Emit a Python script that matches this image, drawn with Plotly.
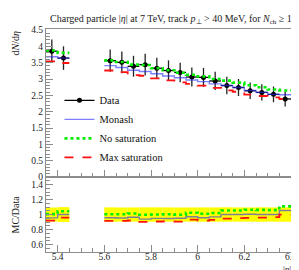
import plotly.graph_objects as go
from plotly.subplots import make_subplots

# ---- data ----
edges_left = [5.35, 5.40, 5.45]
edges_right = [5.60, 5.65, 5.70, 5.75, 5.80, 5.85, 5.90, 5.95, 6.00,
               6.05, 6.10, 6.15, 6.20, 6.25, 6.30, 6.35, 6.40]

data_left = [3.85, 3.64]
data_right = [3.56, 3.51, 3.39, 3.44, 3.33, 3.26, 3.20, 3.06, 3.05,
              2.94, 2.80, 2.74, 2.64, 2.59, 2.53, 2.39]
err_left = [0.36, 0.36]
err_right = [0.34, 0.33, 0.32, 0.33, 0.32, 0.31, 0.30, 0.29, 0.29,
             0.28, 0.27, 0.26, 0.25, 0.25, 0.24, 0.23]

monash_left = [3.68, 3.64]
monash_right = [3.41, 3.35, 3.27, 3.23, 3.16, 3.09, 3.04, 2.97, 2.92,
                2.85, 2.80, 2.74, 2.65, 2.59, 2.53, 2.52]
nosat_left = [3.87, 3.80]
nosat_right = [3.57, 3.52, 3.44, 3.43, 3.33, 3.27, 3.19, 3.13, 3.08,
               3.00, 2.95, 2.89, 2.81, 2.75, 2.68, 2.65]
maxsat_left = [3.54, 3.49]
maxsat_right = [3.26, 3.21, 3.12, 3.10, 3.02, 2.96, 2.90, 2.85, 2.80,
                2.73, 2.65, 2.61, 2.52, 2.48, 2.44, 2.39]

FONT = "Liberation Serif"

groups = [(edges_left, data_left, err_left, monash_left, nosat_left, maxsat_left),
          (edges_right, data_right, err_right, monash_right, nosat_right, maxsat_right)]


def centers(e):
    return [(a + b) / 2 for a, b in zip(e[:-1], e[1:])]


def halfw(e):
    return [(b - a) / 2 for a, b in zip(e[:-1], e[1:])]


def steps(idx, ratio=False):
    xs, ys = [], []
    for g in groups:
        e, d = g[0], g[1]
        v = g[idx]
        if ratio:
            v = [m / dd for m, dd in zip(v, d)]
        if xs:
            xs.append(None)
            ys.append(None)
        xs += list(e)
        ys += list(v) + [v[-1]]
    return xs, ys


fig = make_subplots(rows=2, cols=1, shared_xaxes=True, vertical_spacing=0,
                    row_heights=[0.664, 0.336])

# ratio band (data uncertainty)
for g in groups:
    e, d, er = g[0], g[1], g[2]
    rel = [a / b for a, b in zip(er, d)]
    fig.add_trace(go.Bar(x=centers(e), y=[2 * r for r in rel], base=[1 - r for r in rel],
                         width=[2 * h for h in halfw(e)], marker=dict(color="#ffff00", line_width=0),
                         showlegend=False, hoverinfo="skip"), row=2, col=1)

styles = [
    (3, "Monash", dict(color="rgba(40,40,255,0.6)", width=1.4)),
    (4, "No saturation", dict(color="#00ee00", width=2.6, dash="dot")),
    (5, "Max saturation", dict(color="#ff1010", width=1.8, dash="dash")),
]

# data in main panel
xc, yc, ex, ey = [], [], [], []
for g in groups:
    xc += centers(g[0]); yc += g[1]; ex += halfw(g[0]); ey += g[2]
fig.add_trace(go.Scatter(x=xc, y=yc, mode="markers", name="Data", showlegend=False,
                         marker=dict(color="black", size=5),
                         error_x=dict(type="data", array=ex, width=0, thickness=1.3, color="black"),
                         error_y=dict(type="data", array=ey, width=0, thickness=1.3, color="#222222")),
              row=1, col=1)
# legend entry for Data (line + marker)
fig.add_trace(go.Scatter(x=[None], y=[None], mode="lines+markers", name="Data",
                         line=dict(color="black", width=1.3),
                         marker=dict(color="black", size=5)), row=1, col=1)

for idx, name, ln in styles:
    xs, ys = steps(idx)
    fig.add_trace(go.Scatter(x=xs, y=ys, mode="lines", line_shape="hv", name=name,
                             line=ln, connectgaps=False), row=1, col=1)
    xs, ys = steps(idx, ratio=True)
    fig.add_trace(go.Scatter(x=xs, y=ys, mode="lines", line_shape="hv", name=name,
                             line=ln, connectgaps=False, showlegend=False), row=2, col=1)

axcol = "#8c8c8c"
common = dict(showline=True, linecolor=axcol, linewidth=1, mirror=True, showgrid=False,
              zeroline=False, ticks="inside", tickcolor=axcol, ticklabeloverflow="allow",
              tickfont=dict(family=FONT, size=9.5, color="#222"))

fig.update_xaxes(range=[5.35, 6.40], dtick=0.2, tick0=5.4, ticklen=7,
                 minor=dict(dtick=0.05, ticklen=4, ticks="inside", tickcolor=axcol), **common)
fig.update_xaxes(showticklabels=False, row=1, col=1)
fig.update_xaxes(ticklabelstandoff=-4, row=2, col=1)
fig.update_yaxes(range=[0, 4.53], dtick=0.5, tick0=0, ticklen=7,
                 minor=dict(dtick=0.1, ticklen=4, ticks="inside", tickcolor=axcol), row=1, col=1, **common)
fig.update_yaxes(range=[0.5, 1.5], dtick=0.2, tick0=0.6, ticklen=7,
                 minor=dict(dtick=0.05, ticklen=4, ticks="inside", tickcolor=axcol), row=2, col=1, **common)

fig.update_layout(
    width=299, height=270,
    margin=dict(l=38, r=10, t=21, b=26),
    paper_bgcolor="white", plot_bgcolor="white",
    barmode="overlay",
    font=dict(family=FONT, size=10, color="#222"),
    legend=dict(x=0.055, y=0.745, xanchor="left", yanchor="top", bgcolor="rgba(0,0,0,0)",
                font=dict(family=FONT, size=10.5, color="#111"), tracegroupgap=0,
                itemwidth=30),
    title=dict(text="Charged particle |<i>η</i>| at 7 TeV, track <i>p</i><sub>⊥</sub> > 40 MeV, for <i>N</i><sub>ch</sub> ≥ 1",
               x=0.545, xanchor="center", y=0.975, yanchor="top", font=dict(family=FONT, size=10, color="#222")),
    annotations=[
        dict(text="d<i>N</i>/d<i>η</i>", textangle=-90, xref="paper", yref="paper",
             x=-0.125, y=1.0, xanchor="center", yanchor="top", showarrow=False,
             font=dict(family=FONT, size=10, color="#222")),
        dict(text="MC/Data", textangle=-90, xref="paper", yref="paper",
             x=-0.125, y=0.17, xanchor="center", yanchor="middle", showarrow=False,
             font=dict(family=FONT, size=10, color="#222")),
        dict(text="|<i>η</i>|", xref="paper", yref="paper", x=0.985, y=-0.074,
             xanchor="center", yanchor="middle", showarrow=False,
             font=dict(family=FONT, size=9, color="#222")),
    ],
)

fig.write_html("out.html")
